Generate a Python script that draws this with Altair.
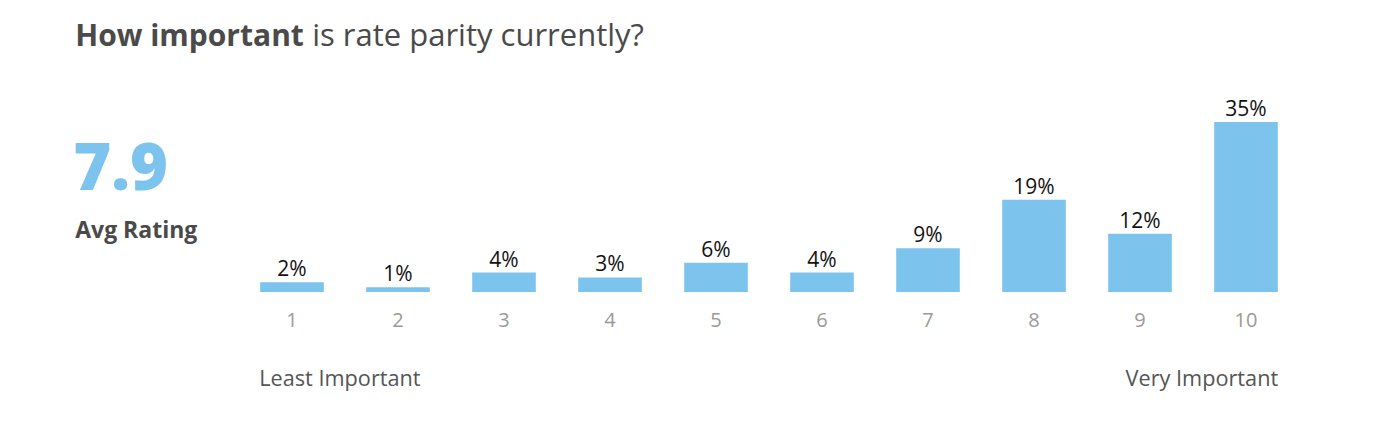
import altair as alt
import pandas as pd

categories = ["1", "2", "3", "4", "5", "6", "7", "8", "9", "10"]
values = [2, 1, 4, 3, 6, 4, 9, 19, 12, 35]
title_bold = "How important"
title_rest = "is rate parity currently?"
avg_value = "7.9"
avg_label = "Avg Rating"
low_label = "Least Important"
high_label = "Very Important"

FONT = "Open Sans"
BLUE = "#7cc4ee"
DARK = "#4a4a4a"

df = pd.DataFrame({
    "rating": categories,
    "pct": values,
    "label": [f"{v}%" for v in values],
})

x_enc = alt.X(
    "rating:N",
    sort=categories,
    scale=alt.Scale(paddingInner=0.4, paddingOuter=0.2),
    axis=alt.Axis(
        title=None, labelAngle=0, domain=False, ticks=False, tickSize=0,
        grid=False, labelPadding=34, labelBaseline="alphabetic",
        labelFont=FONT, labelFontSize=20, labelColor="#9a9a9a",
    ),
)
y_enc = alt.Y("pct:Q", scale=alt.Scale(domain=[0, 41.2]), axis=None)

base = alt.Chart(df)
bars = base.mark_bar(color=BLUE).encode(x=x_enc, y=y_enc)
pct_text = base.mark_text(
    dy=-6, baseline="alphabetic", align="center", font=FONT, fontSize=21, color="#111111"
).encode(x=x_enc, y=y_enc, text="label:N")


def txt(s, x, y, size, color, weight="normal", align="left"):
    return alt.Chart(pd.DataFrame({"t": [s]})).mark_text(
        font=FONT, fontSize=size, color=color, fontWeight=weight,
        align=align, baseline="alphabetic",
    ).encode(text="t:N", x=alt.value(x), y=alt.value(y))


ox = 238.8
oy = 92
layers = [
    bars,
    pct_text,
    txt(title_bold, 75 - ox, 46 - oy, 30, DARK, "bold"),
    txt(title_rest, 312 - ox, 46 - oy, 31, DARK),
    txt(avg_value, 73 - ox, 190 - oy, 65, BLUE, 800),
    txt(avg_label, 75 - ox, 238 - oy, 23, DARK, "bold"),
    txt(low_label, 259 - ox, 386 - oy, 21.7, "#555555"),
    txt(high_label, 1278 - ox, 386 - oy, 21.7, "#555555", align="right"),
]

chart = alt.layer(*layers).properties(
    width=1060,
    height=200,
    autosize=alt.AutoSizeParams(type="none"),
    padding={"left": 231, "top": 84, "right": 70, "bottom": 100},
    background="white",
).configure_view(strokeWidth=0)

chart.save("out.html", embed_options={"renderer": "svg", "actions": False})
